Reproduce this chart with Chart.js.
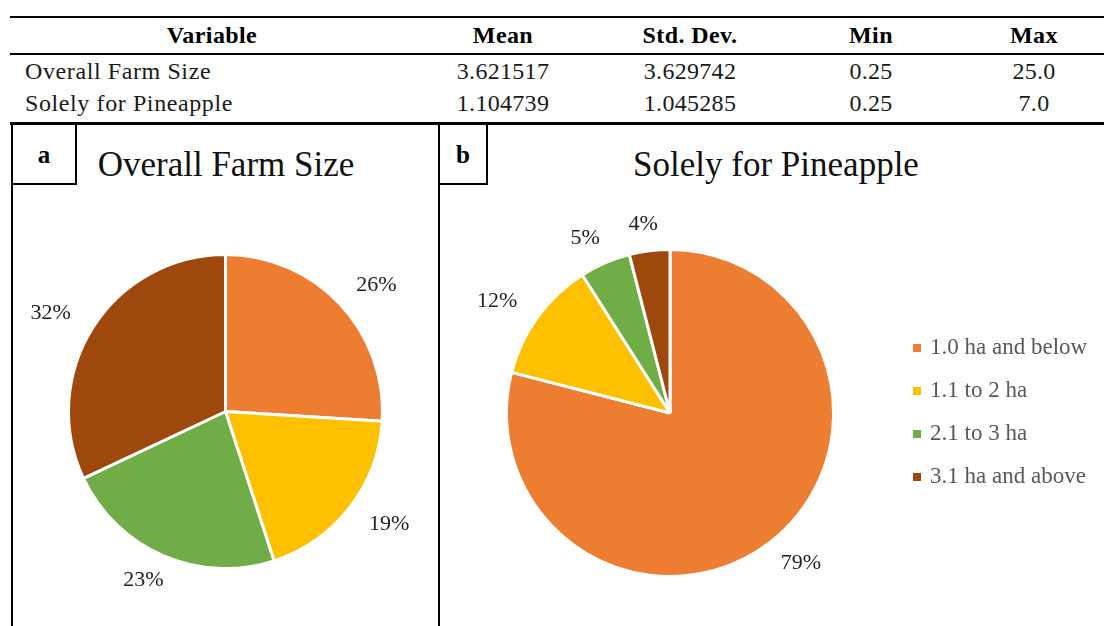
<!DOCTYPE html>
<html>
<head>
<meta charset="utf-8">
<script src="https://cdn.jsdelivr.net/npm/chart.js@4.4.0/dist/chart.umd.min.js"></script>
<style>
  body { margin: 0; background: #fff; width: 1104px; height: 626px; overflow: hidden; position: relative;
         font-family: "Liberation Serif", "DejaVu Serif", serif; color: #000; }
  .abs { position: absolute; }
  .hline { position: absolute; background: #000; }
  .vline { position: absolute; background: #000; }
  .cell { position: absolute; font-size: 24px; letter-spacing: 0.3px; white-space: nowrap; transform: translate(-50%, -50%); color: #1a1a1a; }
  .lcell { position: absolute; font-size: 24px; letter-spacing: 0.6px; white-space: nowrap; transform: translateY(-50%); color: #1a1a1a; }
  .hdr { font-weight: bold; font-size: 24px; letter-spacing: 0.4px; color: #000; }
  .title { position: absolute; font-size: 35px; white-space: nowrap; transform: translate(-50%, -50%); color: #111; }
  .tag { position: absolute; font-size: 25px; font-weight: bold; transform: translate(-50%, -50%); }
</style>
</head>
<body>
<div id="table"></div>

<div class="hline" style="left:10px;top:16px;width:1094px;height:2px"></div>
<div class="hline" style="left:10px;top:53px;width:1094px;height:2px"></div>
<div class="hline" style="left:10px;top:122px;width:1094px;height:3px"></div>

<div class="vline" style="left:11px;top:124px;width:2px;height:502px"></div>
<div class="vline" style="left:438px;top:124px;width:2px;height:502px"></div>
<div class="vline" style="left:75px;top:124px;width:2px;height:61px"></div>
<div class="hline" style="left:11px;top:183px;width:66px;height:2px"></div>
<div class="vline" style="left:486px;top:124px;width:2px;height:61px"></div>
<div class="hline" style="left:438px;top:183px;width:50px;height:2px"></div>

<div class="tag" style="left:44px;top:155px">a</div>
<div class="tag" style="left:463px;top:155px">b</div>
<div class="title" style="left:226px;top:165px">Overall Farm Size</div>
<div class="title" style="left:776px;top:165px">Solely for Pineapple</div>

<div class="abs" style="left:12px;top:186px;width:426px;height:440px"><canvas id="pieA"></canvas></div>
<div class="abs" style="left:440px;top:186px;width:664px;height:440px"><canvas id="pieB"></canvas></div>

<script>
// table
var columns = ["Variable", "Mean", "Std. Dev.", "Min", "Max"];
var rowNames = ["Overall Farm Size", "Solely for Pineapple"];
var means = ["3.621517", "1.104739"];
var stdDevs = ["3.629742", "1.045285"];
var mins = ["0.25", "0.25"];
var maxs = ["25.0", "7.0"];

// pie data
var categories = ["1.0 ha and below", "1.1 to 2 ha", "2.1 to 3 ha", "3.1 ha and above"];
var overallFarm = [26, 19, 23, 32];
var pineappleOnly = [79, 12, 5, 4];
var colors = ["#ED7D31", "#FFC000", "#70AD47", "#9E480E"];

var colX = [212, 503, 690, 871, 1034];
var tbl = document.getElementById("table");
columns.forEach(function (c, i) {
  var d = document.createElement("div");
  d.className = "cell hdr";
  d.style.left = colX[i] + "px";
  d.style.top = "35px";
  d.textContent = c;
  tbl.appendChild(d);
});
var rowY = [71, 103];
rowNames.forEach(function (name, r) {
  var d = document.createElement("div");
  d.className = "lcell";
  d.style.left = "25px";
  d.style.top = rowY[r] + "px";
  d.textContent = name;
  tbl.appendChild(d);
  [means[r], stdDevs[r], mins[r], maxs[r]].forEach(function (v, i) {
    var e = document.createElement("div");
    e.className = "cell";
    e.style.left = colX[i + 1] + "px";
    e.style.top = rowY[r] + "px";
    e.textContent = v;
    tbl.appendChild(e);
  });
});

// outside percent labels (wider horizontally, like Excel's outside-end)
var pctLabels = {
  id: "pctLabels",
  afterDatasetsDraw: function (chart) {
    var ctx = chart.ctx;
    var meta = chart.getDatasetMeta(0);
    var vals = chart.data.datasets[0].data;
    ctx.save();
    ctx.font = "22px 'Liberation Serif', serif";
    ctx.fillStyle = "#222";
    ctx.textAlign = "center";
    ctx.textBaseline = "middle";
    meta.data.forEach(function (arc, i) {
      var mid = (arc.startAngle + arc.endAngle) / 2;
      var rx = arc.outerRadius + 50;
      var ry = arc.outerRadius + 27;
      ctx.fillText(vals[i] + "%", arc.x + Math.cos(mid) * rx, arc.y + Math.sin(mid) * ry);
    });
    ctx.restore();
  }
};

var sideLegend = {
  id: "sideLegend",
  afterDraw: function (chart) {
    if (!chart.options.plugins.sideLegend || !chart.options.plugins.sideLegend.show) return;
    var ctx = chart.ctx;
    ctx.save();
    ctx.font = "23px 'Liberation Serif', serif";
    ctx.textBaseline = "middle";
    chart.data.labels.forEach(function (lab, i) {
      var y = 162 + i * 43;
      ctx.fillStyle = colors[i];
      ctx.fillRect(473, y - 4, 8, 8);
      ctx.fillStyle = "#595959";
      ctx.fillText(lab, 490, y);
    });
    ctx.restore();
  }
};

function makePie(id, values, padding, legend) {
  return new Chart(document.getElementById(id), {
    type: "pie",
    data: {
      labels: categories,
      datasets: [{
        data: values,
        backgroundColor: colors,
        borderColor: "#fff",
        borderWidth: 3
      }]
    },
    options: {
      responsive: true,
      maintainAspectRatio: false,
      animation: false,
      layout: { padding: padding },
      plugins: {
        legend: { display: false },
        tooltip: { enabled: false },
        sideLegend: { show: legend }
      }
    },
    plugins: [pctLabels, sideLegend]
  });
}

makePie("pieA", overallFarm, { left: 55, right: 54, top: 67, bottom: 56 }, false);
makePie("pieB", pineappleOnly, { left: 65, right: 269, top: 62, bottom: 48 }, true);
</script>
</body>
</html>
